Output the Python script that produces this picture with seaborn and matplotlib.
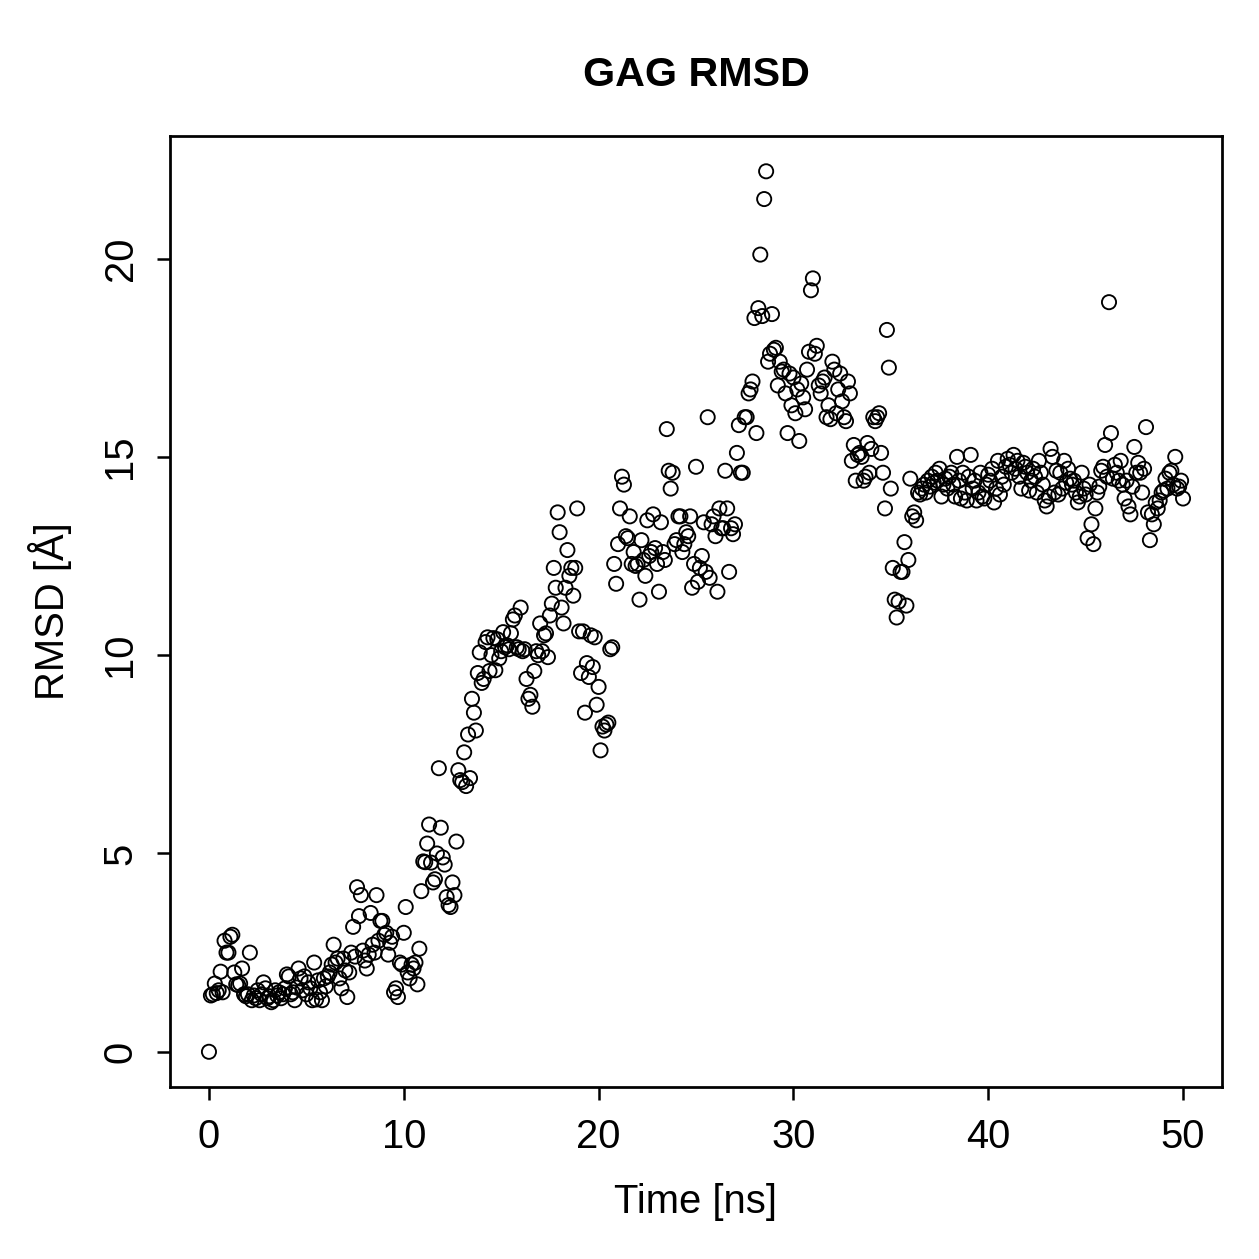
"""GAG RMSD over the trajectory, R base-graphics look."""

import matplotlib
matplotlib.use("Agg")
import matplotlib.pyplot as plt
import numpy as np
import pandas as pd
import seaborn as sns

# RMSD values (Angstrom), one frame every 0.1 ns from 0 to 50 ns
rmsd = [
    0.0,
    1.42, 1.45, 1.72, 1.48, 1.55, 2.02, 1.5, 2.8, 2.5, 2.5,
    2.9, 2.95, 2.0, 1.7, 1.68, 1.72, 2.1, 1.45, 1.4, 1.45,
    2.5, 1.3, 1.42, 1.35, 1.55, 1.3, 1.45, 1.75, 1.6, 1.35,
    1.4, 1.25, 1.3, 1.55, 1.42, 1.5, 1.35, 1.45, 1.6, 1.95,
    1.9, 1.45, 1.5, 1.3, 1.62, 2.1, 1.85, 1.55, 1.9, 1.45,
    1.75, 1.6, 1.3, 2.25, 1.32, 1.8, 1.5, 1.3, 1.85, 1.65,
    1.9, 2.0, 2.2, 2.7, 2.25, 2.35, 1.85, 1.6, 2.35, 2.05,
    1.38, 2.0, 2.5, 3.15, 2.4, 4.15, 3.42, 3.95, 2.55, 2.3,
    2.1, 2.45, 3.5, 2.7, 2.5, 3.95, 2.8, 3.3, 3.3, 2.95,
    3.0, 2.45, 2.75, 2.9, 1.5, 1.6, 1.38, 2.25, 2.2, 3.0,
    3.65, 2.0, 1.85, 2.2, 2.1, 2.25, 1.7, 2.6, 4.05, 4.8,
    4.78, 5.25, 5.73, 4.77, 4.27, 4.35, 5.0, 7.15, 5.65, 4.9,
    4.72, 3.9, 3.7, 3.65, 4.27, 3.95, 5.3, 7.1, 6.85, 6.8,
    7.55, 6.7, 8.0, 6.9, 8.9, 8.55, 8.1, 9.55, 10.07, 9.3,
    9.4, 10.33, 10.45, 9.6, 10.0, 10.43, 9.62, 10.4, 9.92, 10.1,
    10.58, 10.2, 10.25, 10.15, 10.55, 10.9, 11.0, 10.2, 10.15, 11.2,
    10.1, 10.15, 9.4, 8.9, 9.0, 8.7, 9.6, 10.1, 10.0, 10.8,
    10.1, 10.5, 10.55, 9.95, 11.0, 11.3, 12.2, 11.7, 13.6, 13.1,
    11.2, 10.8, 11.7, 12.65, 12.0, 12.2, 11.5, 12.2, 13.7, 10.6,
    9.55, 10.6, 8.55, 9.8, 9.45, 10.5, 9.7, 10.45, 8.75, 9.2,
    7.6, 8.2, 8.1, 8.25, 8.3, 10.15, 10.2, 12.3, 11.8, 12.8,
    13.7, 14.5, 14.3, 13.0, 12.95, 13.5, 12.3, 12.6, 12.25, 12.3,
    11.4, 12.9, 12.4, 12.0, 13.4, 12.5, 12.6, 13.55, 12.7, 12.3,
    11.6, 13.35, 12.6, 12.4, 15.7, 14.65, 14.2, 14.6, 12.8, 12.9,
    13.5, 13.5, 12.6, 12.8, 13.1, 13.0, 13.5, 11.7, 12.3, 14.75,
    11.85, 12.2, 12.5, 13.35, 12.1, 16.0, 11.95, 13.3, 13.5, 13.0,
    11.6, 13.7, 13.2, 13.2, 14.65, 13.7, 12.1, 13.2, 13.05, 13.3,
    15.1, 15.8, 14.6, 14.6, 16.0, 16.0, 16.6, 16.7, 16.9, 18.5,
    15.6, 18.75, 20.1, 18.55, 21.5, 22.2, 17.4, 17.6, 18.6, 17.7,
    17.75, 16.8, 17.4, 17.15, 17.2, 16.6, 15.6, 17.1, 16.3, 17.0,
    16.1, 16.7, 15.4, 16.85, 16.5, 16.2, 17.2, 17.65, 19.2, 19.5,
    17.6, 17.8, 16.8, 16.6, 16.9, 17.0, 16.0, 16.3, 15.95, 17.4,
    17.2, 16.1, 16.7, 17.1, 16.4, 16.0, 15.9, 16.9, 16.6, 14.9,
    15.3, 14.4, 15.05, 15.1, 15.0, 14.4, 14.5, 15.35, 14.6, 15.2,
    16.0, 15.9, 16.0, 16.1, 15.1, 14.6, 13.7, 18.2, 17.25, 14.2,
    12.2, 11.4, 10.95, 11.35, 12.1, 12.1, 12.85, 11.25, 12.4, 14.45,
    13.5, 13.6, 13.4, 14.1, 14.05, 14.2, 14.3, 14.1, 14.4, 14.25,
    14.5, 14.35, 14.6, 14.4, 14.7, 14.0, 14.3, 14.45, 14.2, 14.5,
    14.6, 14.3, 14.0, 15.0, 14.4, 13.95, 14.6, 14.1, 13.9, 14.5,
    15.05, 14.2, 14.4, 13.9, 14.1, 14.6, 14.0, 13.95, 14.3, 14.55,
    14.4, 14.7, 13.85, 14.2, 14.9, 14.05, 14.5, 14.3, 14.75, 14.95,
    14.8, 14.6, 15.05, 14.7, 14.9, 14.5, 14.2, 14.85, 14.75, 14.6,
    14.15, 14.4, 14.7, 14.5, 14.1, 14.9, 14.6, 14.3, 13.9, 13.75,
    14.0, 15.2, 15.0, 14.1, 14.65, 14.05, 14.6, 14.2, 14.9, 14.35,
    14.7, 14.45, 14.3, 14.4, 14.1, 13.85, 14.0, 14.6, 14.2, 14.05,
    12.95, 14.3, 13.3, 12.8, 13.7, 14.1, 14.25, 14.65, 14.75, 15.3,
    14.5, 18.9, 15.6, 14.45, 14.8, 14.6, 14.4, 14.9, 14.3, 13.95,
    14.4, 13.75, 13.55, 14.25, 15.25, 14.6, 14.85, 14.6, 14.1, 14.7,
    15.75, 13.6, 12.9, 13.55, 13.3, 13.85, 13.7, 13.9, 14.1, 14.15,
    14.45, 14.2, 14.6, 14.65, 14.3, 15.0, 14.2, 14.25, 14.4, 13.95,
]
frame_step_ns = 0.1

x_ticks = [0, 10, 20, 30, 40, 50]
y_ticks = [0, 5, 10, 15, 20]

df = pd.DataFrame({"time": np.arange(len(rmsd)) * frame_step_ns, "rmsd": rmsd})

sns.set_style("ticks")
plt.rcParams["font.family"] = ["Liberation Sans", "DejaVu Sans"]
plt.rcParams["text.color"] = "black"
plt.rcParams["axes.labelcolor"] = "black"

fig = plt.figure(figsize=(1259 / 180, 1259 / 180), dpi=180)
ax = fig.add_axes([170 / 1259, 1 - 1087 / 1259, (1222 - 170) / 1259, (1087 - 136) / 1259])

sns.scatterplot(data=df, x="time", y="rmsd", ax=ax, marker="o", s=32,
                facecolor="none", edgecolor="black", linewidth=0.75)

ax.set_xlim(-2.0, 52.0)
ax.set_ylim(-0.888, 23.09)
ax.set_xticks(x_ticks)
ax.set_yticks(y_ticks)
ax.set_xticklabels([str(t) for t in x_ticks], fontsize=16)
ax.set_yticklabels([str(t) for t in y_ticks], fontsize=16, rotation=90, va="center")
ax.tick_params(direction="out", length=5.2, width=1.0, pad=7, colors="black")
for side in ["left", "right", "top", "bottom"]:
    ax.spines[side].set_visible(True)
    ax.spines[side].set_linewidth(1.1)
    ax.spines[side].set_color("black")

ax.set_xlabel("Time [ns]", fontsize=16, labelpad=11)
ax.set_ylabel("RMSD [Å]", fontsize=16, labelpad=12)
ax.set_title("GAG RMSD", fontsize=16.5, fontweight="bold", pad=20)

fig.savefig("out.png", dpi=180)
print(len(rmsd))
